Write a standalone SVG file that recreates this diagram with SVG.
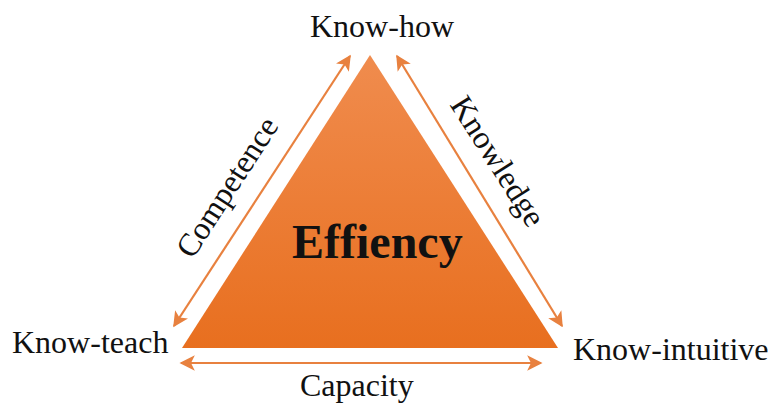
<svg xmlns="http://www.w3.org/2000/svg" width="774" height="405" viewBox="0 0 774 405">
  <style>
    .lbl { font-family: "Liberation Serif", "Times New Roman", serif; font-size: 32px; fill: #111; }
    .title { font-family: "Liberation Serif", "Times New Roman", serif; font-size: 48px; font-weight: bold; fill: #111; }
    .conn { stroke: #E8813F; stroke-width: 2.2; fill: none; marker-start: url(#head); marker-end: url(#head); }
  </style>
  <defs>
    <linearGradient id="fill" x1="0" y1="0" x2="0" y2="1">
      <stop offset="0" stop-color="#F08C4E"/>
      <stop offset="1" stop-color="#E86F1F"/>
    </linearGradient>
    <marker id="head" viewBox="0 0 10 10" refX="9" refY="5" markerWidth="7" markerHeight="7" orient="auto-start-reverse" markerUnits="strokeWidth">
      <path d="M0,0 L10,5 L0,10 L2.5,5 Z" fill="#E8813F"/>
    </marker>
  </defs>
  <rect width="774" height="405" fill="#ffffff"/>

  <g id="core">
    <polygon points="370,55 182,348 558,348" fill="url(#fill)"/>
    <text class="title" x="292" y="258">Effiency</text>
  </g>

  <g id="connectors">
    <line class="conn" x1="350" y1="56" x2="174" y2="326"/>
    <line class="conn" x1="397" y1="56" x2="562" y2="326"/>
    <line class="conn" x1="181" y1="363" x2="541" y2="363"/>
  </g>

  <g id="know-how">
    <text class="lbl" x="310" y="37">Know-how</text>
  </g>
  <g id="know-teach">
    <text class="lbl" x="12" y="353">Know-teach</text>
  </g>
  <g id="know-intuitive">
    <text class="lbl" x="573" y="360">Know-intuitive</text>
  </g>

  <g id="edge-labels">
    <text class="lbl" transform="translate(236,193) rotate(-57)" text-anchor="middle">Competence</text>
    <text class="lbl" transform="translate(489,167) rotate(57.5)" text-anchor="middle">Knowledge</text>
    <text class="lbl" x="300" y="396">Capacity</text>
  </g>
</svg>
